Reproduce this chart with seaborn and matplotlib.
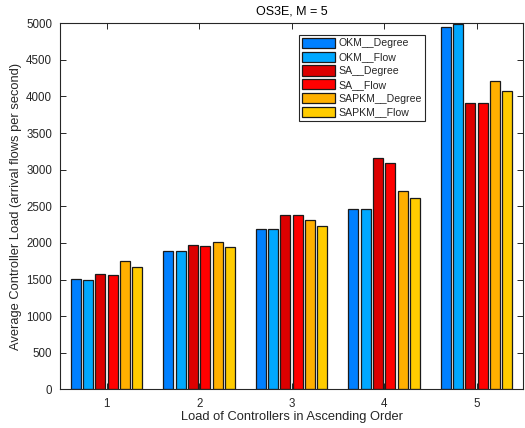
import matplotlib
matplotlib.use("Agg")
import matplotlib.pyplot as plt
import seaborn as sns
import pandas as pd

# Average controller load per controller rank, for each placement method
positions = ["1", "2", "3", "4", "5"]
okm_degree = [1503, 1890, 2190, 2460, 4955]
okm_flow = [1500, 1885, 2190, 2458, 4988]
sa_degree = [1578, 1975, 2377, 3165, 3907]
sa_flow = [1557, 1958, 2377, 3097, 3907]
sapkm_degree = [1753, 2010, 2309, 2709, 4217]
sapkm_flow = [1675, 1944, 2235, 2613, 4075]

methods = ["OKM__Degree", "OKM__Flow", "SA__Degree", "SA__Flow",
           "SAPKM__Degree", "SAPKM__Flow"]
series = [okm_degree, okm_flow, sa_degree, sa_flow, sapkm_degree, sapkm_flow]
colors = ["#0080ff", "#00a8ff", "#dc0000", "#ff0000", "#ffb000", "#ffcc00"]

rows = []
for name, vals in zip(methods, series):
    for p, v in zip(positions, vals):
        rows.append({"pos": p, "method": name, "load": v})
df = pd.DataFrame(rows)

sns.set_style("ticks")
plt.rcParams["font.family"] = ["Liberation Sans", "DejaVu Sans"]
plt.rcParams["font.size"] = 8

fig = plt.figure(figsize=(5.25, 4.28), dpi=100)
ax = fig.add_axes([0.115, 0.0904, 0.881, 0.8552])

sns.barplot(data=df, x="pos", y="load", hue="method", order=positions,
            hue_order=methods, palette=colors, saturation=1, width=0.8,
            gap=0.19, edgecolor="#1a1a1a", linewidth=0.9, ax=ax,
            legend=True, errorbar=None)

ax.set_xlim(-0.5, 4.5)
ax.set_ylim(0, 5000)
ax.set_yticks(range(0, 5001, 500))

ink = "#262626"
for s in ax.spines.values():
    s.set_visible(True)
    s.set_color(ink)
    s.set_linewidth(0.8)
ax.tick_params(direction="in", top=True, right=True, length=4, width=0.7,
               color=ink, labelcolor=ink, labelsize=8.3, pad=6)

ax.set_title("OS3E, M = 5", fontsize=9, color="black", pad=6)
ax.set_xlabel("Load of Controllers in Ascending Order", fontsize=9.3,
              color=ink, labelpad=1)
ax.set_ylabel("Average Controller Load (arrival flows per second)",
              fontsize=9.3, color=ink, labelpad=3)

handles, labels = ax.get_legend_handles_labels()
leg = ax.legend(handles, labels, loc="upper left",
                bbox_to_anchor=(0.516, 0.969), fontsize=7.6,
                frameon=True, fancybox=False, framealpha=1,
                edgecolor=ink, handlelength=3.1, handleheight=1.1,
                handletextpad=0.3, labelspacing=0.3, borderpad=0.3,
                borderaxespad=0)
leg.get_frame().set_linewidth(0.8)

fig.savefig("out.png", dpi=100)
